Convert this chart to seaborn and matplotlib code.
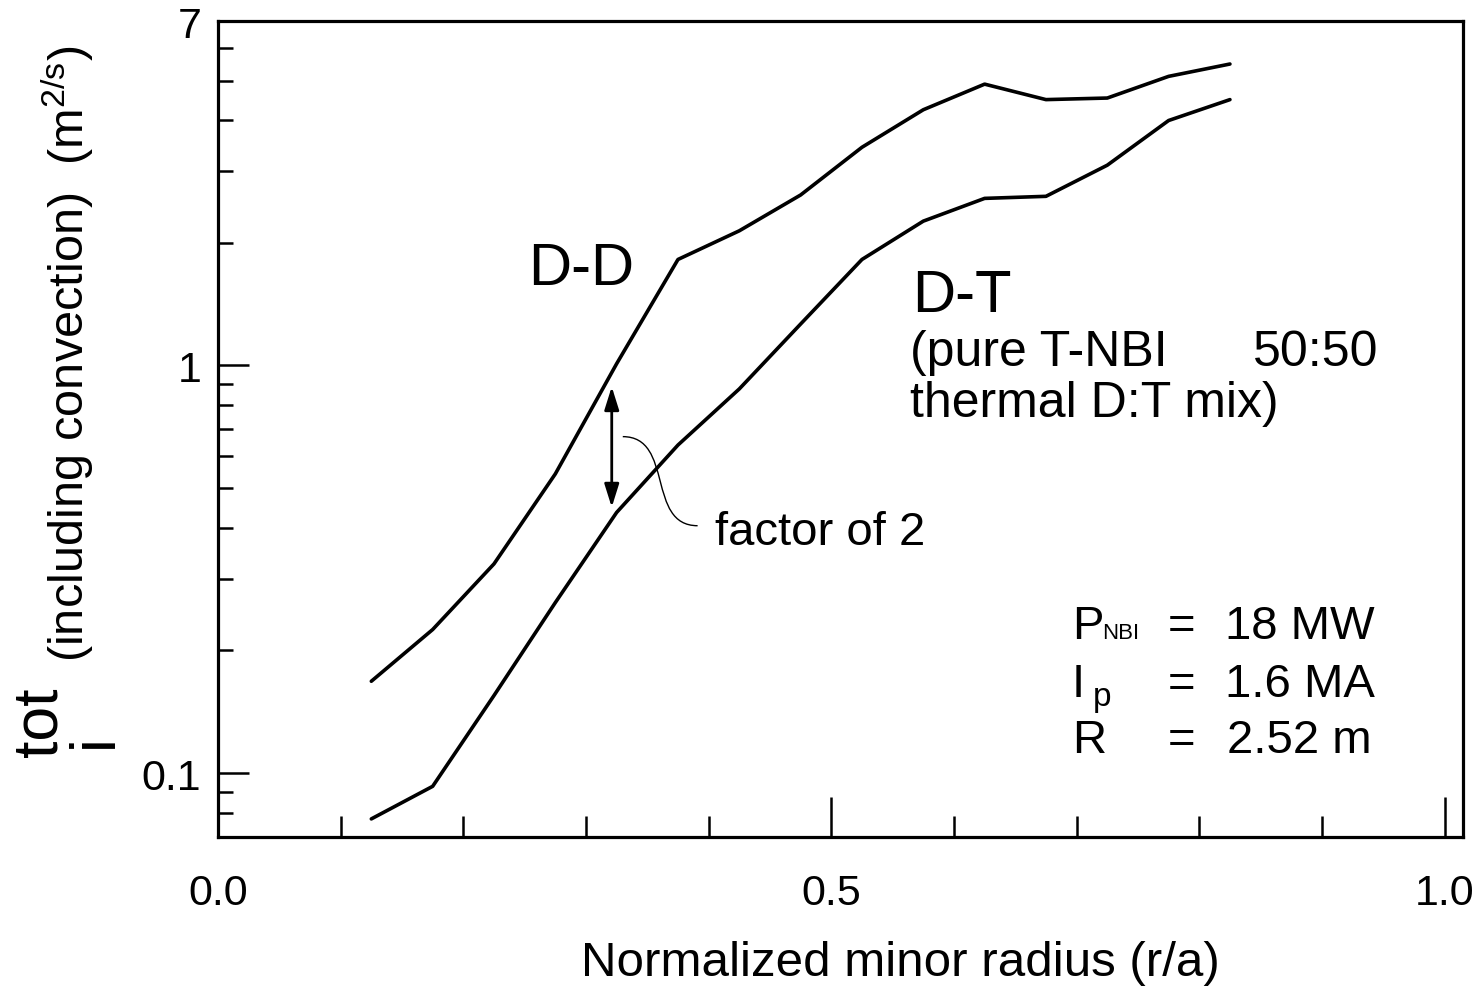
import numpy as np
import pandas as pd
import matplotlib
matplotlib.use("Agg")
import matplotlib.pyplot as plt
from matplotlib.path import Path
from matplotlib.patches import PathPatch
from matplotlib.ticker import FixedLocator, NullFormatter
import seaborn as sns

# ---- data ----
r_over_a = [0.125, 0.175, 0.225, 0.275, 0.325, 0.375, 0.425, 0.475,
            0.525, 0.575, 0.625, 0.675, 0.725, 0.775, 0.825]
chi_dd = [0.168, 0.225, 0.326, 0.542, 1.01, 1.82, 2.14, 2.62,
          3.43, 4.24, 4.90, 4.49, 4.53, 5.12, 5.49]
chi_dt = [0.0772, 0.0928, 0.155, 0.262, 0.436, 0.638, 0.876, 1.264,
          1.82, 2.26, 2.57, 2.60, 3.10, 3.99, 4.49]
cases = ["D-D", "D-T"]
y_major = [0.1, 1, 7]
y_major_labels = ["0.1", "1", "7"]
y_minor = [0.08, 0.09, 0.2, 0.3, 0.4, 0.5, 0.6, 0.7, 0.8, 0.9, 2, 3, 4, 5, 6]
x_major = [0.0, 0.5, 1.0]
x_major_labels = ["0.0", "0.5", "1.0"]
x_minor = [0.1, 0.2, 0.3, 0.4, 0.6, 0.7, 0.8, 0.9]
arrow_x = 0.321
arrow_y = (0.887, 0.449)

df = pd.DataFrame({
    "r": r_over_a * 2,
    "chi": chi_dd + chi_dt,
    "case": [cases[0]] * len(r_over_a) + [cases[1]] * len(r_over_a),
})

sns.set_theme(style="ticks")
plt.rcParams["font.family"] = ["Liberation Sans", "DejaVu Sans"]
plt.rcParams["mathtext.fontset"] = "custom"
plt.rcParams["mathtext.rm"] = "Liberation Sans"
plt.rcParams["mathtext.default"] = "regular"
plt.rcParams["xtick.labelsize"] = 31
plt.rcParams["ytick.labelsize"] = 31

W, H = 1482, 987
fig = plt.figure(figsize=(W / 100, H / 100), dpi=100)
ax = fig.add_axes([218 / W, 1 - 838 / H, (1463 - 218) / W, (838 - 22) / H])

sns.lineplot(data=df, x="r", y="chi", hue="case",
             palette={"D-D": "black", "D-T": "black"},
             linewidth=2.6, legend=False, ax=ax, estimator=None, sort=False)

ax.set_yscale("log")
ax.set_xlim(0, 1.015)
ax.set_ylim(0.0697, 7.0)

ax.yaxis.set_major_locator(FixedLocator(y_major))
ax.set_yticklabels(y_major_labels, fontsize=31)
ax.yaxis.set_minor_locator(FixedLocator(y_minor))
ax.yaxis.set_minor_formatter(NullFormatter())
ax.xaxis.set_major_locator(FixedLocator(x_major))
ax.set_xticklabels(x_major_labels, fontsize=31)
ax.xaxis.set_minor_locator(FixedLocator(x_minor))

for s in ax.spines.values():
    s.set_linewidth(2.3)
    s.set_color("black")

ax.tick_params(axis="both", which="both", direction="in", color="black",
               width=1.8, labelcolor="black", top=False, right=False)
ax.tick_params(axis="x", which="major", length=29, pad=26)
ax.tick_params(axis="x", which="minor", length=15)
ax.tick_params(axis="y", which="major", length=22, pad=12)
ax.tick_params(axis="y", which="minor", length=11)

ax.set_xlabel("Normalized minor radius (r/a)", fontsize=35.5, color="black")
ax.xaxis.set_label_coords((900 - 218) / 1245, -(941 - 838) / 816)
ax.set_ylabel("")

# double-headed arrow: factor of 2
ax.annotate("", xy=(arrow_x, arrow_y[1]), xytext=(arrow_x, arrow_y[0]),
            arrowprops=dict(arrowstyle="<|-|>,head_length=0.7,head_width=0.22",
                            color="black", lw=2.0, mutation_scale=20,
                            shrinkA=0, shrinkB=0))
# curved leader line to the label
verts = [(0.330, 0.669), (0.372, 0.669), (0.349, 0.4045), (0.391, 0.4045)]
codes = [Path.MOVETO, Path.CURVE4, Path.CURVE4, Path.CURVE4]
ax.add_patch(PathPatch(Path(verts, codes), fill=False, lw=1.0, color="black"))


def ftext(px, py, s, size, **kw):
    kw.setdefault("ha", "left")
    kw.setdefault("va", "baseline")
    return fig.text(px / W, 1 - py / H, s, fontsize=size, color="black", **kw)


ftext(528, 285, "D-D", 43)
ftext(912, 312, "D-T", 43)
ftext(910, 366, "(pure T-NBI", 36)
ftext(1378, 366, "50:50", 36, ha="right")
ftext(910, 417, "thermal D:T mix)", 36)
ftext(715, 545, "factor of 2", 34)

ftext(1072, 639, "P", 34)
ftext(1102, 639, "NBI", 16)
ftext(1072, 697, "I", 34)
ftext(1093, 706, "p", 24)
ftext(1072, 753, "R", 34)
for py in (639, 697, 753):
    ftext(1168, py, "=", 34)
ftext(1225, 639, "18 MW", 34)
ftext(1225, 697, "1.6 MA", 34)
ftext(1227, 753, "2.52 m", 34)

# y-axis label pieces (rotated)
rot = dict(rotation=90, rotation_mode="anchor")
ftext(56, 757, "tot", 45, **rot)
ftext(112, 748, "i", 45, **rot)
ftext(84, 662, "(including convection)  (m$^{2/s}$)", 35, **rot)

fig.savefig("out.png", dpi=100)
